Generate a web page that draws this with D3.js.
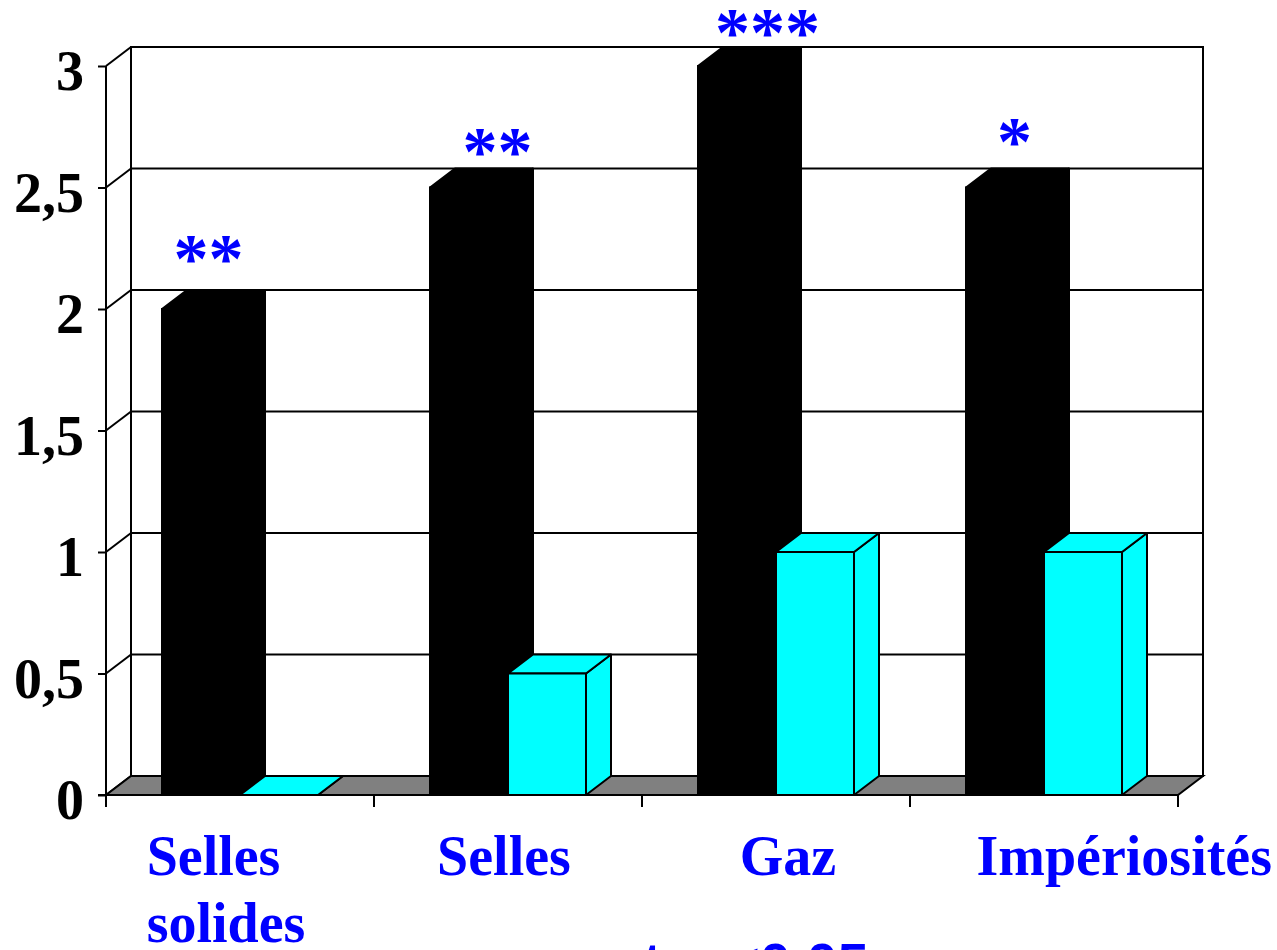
<!DOCTYPE html>
<html>
<head>
<meta charset="utf-8">
<script src="https://cdn.jsdelivr.net/npm/d3@7"></script>
<style>
  html, body { margin: 0; padding: 0; background: #fff; overflow: hidden; }
  svg { display: block; }
</style>
</head>
<body>
<script>
// ---- data ----
const categories = [["Selles", "solides"], ["Selles"], ["Gaz"], ["Impériosités"]];
const blackValues = [2, 2.5, 3, 2.5];
const cyanValues = [0, 0.5, 1, 1];
const significance = ["**", "**", "***", "*"];
const yTicks = [0, 0.5, 1, 1.5, 2, 2.5, 3];
const yTickLabels = ["0", "0,5", "1", "1,5", "2", "2,5", "3"];
const footnote = "t p <0,05";

// ---- layout ----
const W = 1277, H = 950;
const plotLeft = 106, plotRight = 1178, plotBase = 795, plotTop = 66;
const DX = 25, DY = -19;               // depth offset of the 3D walls
const serif = "'Liberation Serif', 'Times New Roman', serif";
const sans = "'Liberation Sans', Arial, sans-serif";
const BLUE = "#0000ff", CYAN = "#00ffff", FLOOR = "#808080";
const starShift = [-5, 16, 18, -3];      // horizontal nudge of each significance mark
const starLift = [-8, 6, 9, -4];         // vertical nudge relative to the bar's back edge
const labelShift = [-14, -4, 12, 81];    // horizontal nudge of category labels

const svg = d3.select("body").append("svg")
  .attr("width", W).attr("height", H)
  .style("background", "#fff");

const y = d3.scaleLinear().domain([0, 3]).range([plotBase, plotTop]);
const x = d3.scaleBand().domain(d3.range(categories.length)).range([plotLeft, plotRight]);
const xs = d3.scaleBand().domain([0, 1]).range([56, x.bandwidth() - 56]);

// back wall
svg.append("rect")
  .attr("x", plotLeft + DX).attr("y", y(3) + DY)
  .attr("width", plotRight - plotLeft).attr("height", y(0) - y(3))
  .attr("fill", "#fff").attr("stroke", "#000").attr("stroke-width", 2);

// gridlines on the back wall
svg.append("g").selectAll("line").data(yTicks.filter(v => v > 0)).join("line")
  .attr("x1", plotLeft + DX).attr("x2", plotRight + DX)
  .attr("y1", v => y(v) + DY).attr("y2", v => y(v) + DY)
  .attr("stroke", "#000").attr("stroke-width", 2);

// side wall edges joining the axis to the back wall
svg.append("g").selectAll("line").data(yTicks).join("line")
  .attr("x1", plotLeft).attr("y1", v => y(v))
  .attr("x2", plotLeft + DX).attr("y2", v => y(v) + DY)
  .attr("stroke", "#000").attr("stroke-width", 2);

// floor
svg.append("polygon")
  .attr("points", [[plotLeft, plotBase], [plotRight, plotBase], [plotRight + DX, plotBase + DY], [plotLeft + DX, plotBase + DY]].join(" "))
  .attr("fill", FLOOR).attr("stroke", "#000").attr("stroke-width", 2);

// value axis
const yAxis = d3.axisLeft(y).tickValues(yTicks).tickSize(8).tickFormat("");
svg.append("g").attr("transform", `translate(${plotLeft},0)`).call(yAxis)
  .call(g => g.selectAll("line, path").attr("stroke", "#000").attr("stroke-width", 2))
  .call(g => g.select(".domain").attr("d", `M-8,${y(0)}H0V${y(3)}`));

svg.append("g").selectAll("text").data(yTicks).join("text")
  .attr("x", 84).attr("y", v => y(v) + 24)
  .attr("text-anchor", "end")
  .attr("font-family", serif).attr("font-weight", "bold").attr("font-size", 56)
  .attr("fill", "#000")
  .text((v, i) => yTickLabels[i]);

// category axis
svg.append("line").attr("x1", plotLeft).attr("x2", plotRight).attr("y1", plotBase).attr("y2", plotBase)
  .attr("stroke", "#000").attr("stroke-width", 2);
const bounds = d3.range(categories.length + 1).map(i => plotLeft + i * x.step());
svg.append("g").selectAll("line").data(bounds).join("line")
  .attr("x1", d => d).attr("x2", d => d).attr("y1", plotBase).attr("y2", plotBase + 12)
  .attr("stroke", "#000").attr("stroke-width", 2);

// 3D column
function box(g, xl, w, v, fill) {
  const yt = y(v), yb = y(0);
  g.append("polygon")
    .attr("points", [[xl + w, yt], [xl + w + DX, yt + DY], [xl + w + DX, yb + DY], [xl + w, yb]].join(" "))
    .attr("fill", fill).attr("stroke", "#000").attr("stroke-width", 2).attr("stroke-linejoin", "round");
  g.append("polygon")
    .attr("points", [[xl, yt], [xl + w, yt], [xl + w + DX, yt + DY], [xl + DX, yt + DY]].join(" "))
    .attr("fill", fill).attr("stroke", "#000").attr("stroke-width", 2).attr("stroke-linejoin", "round");
  g.append("rect")
    .attr("x", xl).attr("y", yt).attr("width", w).attr("height", yb - yt)
    .attr("fill", fill).attr("stroke", "#000").attr("stroke-width", 2);
}

const bars = svg.append("g");
categories.forEach((c, i) => {
  const g = bars.append("g");
  box(g, x(i) + xs(0), xs.bandwidth(), blackValues[i], "#000");
  box(g, x(i) + xs(1), xs.bandwidth(), cyanValues[i], CYAN);
});

// significance marks
svg.append("g").selectAll("text").data(significance).join("text")
  .attr("x", (s, i) => x(i) + xs(0) + xs.bandwidth() / 2 + DX / 2 + starShift[i])
  .attr("y", (s, i) => y(blackValues[i]) + DY + starLift[i])
  .attr("text-anchor", "middle")
  .attr("font-family", serif).attr("font-weight", "bold").attr("font-size", 70)
  .attr("fill", BLUE)
  .text(s => s);

// category labels (multi-line labels are left aligned as a block)
const labels = svg.append("g");
categories.forEach((lines, i) => {
  const t = labels.append("text")
    .attr("font-family", serif).attr("font-weight", "bold").attr("font-size", 56)
    .attr("fill", BLUE).attr("y", 875);
  lines.forEach((ln, k) => t.append("tspan").attr("x", 0).attr("dy", k === 0 ? 0 : 67).text(ln));
  const w = t.node().getBBox().width;
  let x0 = x(i) + x.bandwidth() / 2 + labelShift[i] - w / 2;
  x0 = Math.min(x0, W - 5 - w);
  t.selectAll("tspan").attr("x", x0);
});

// footnote line running off the bottom edge
svg.append("text")
  .attr("x", 643).attr("y", 982)
  .attr("font-family", sans).attr("font-weight", "bold").attr("font-size", 56)
  .attr("fill", BLUE)
  .text(footnote);
</script>
</body>
</html>
